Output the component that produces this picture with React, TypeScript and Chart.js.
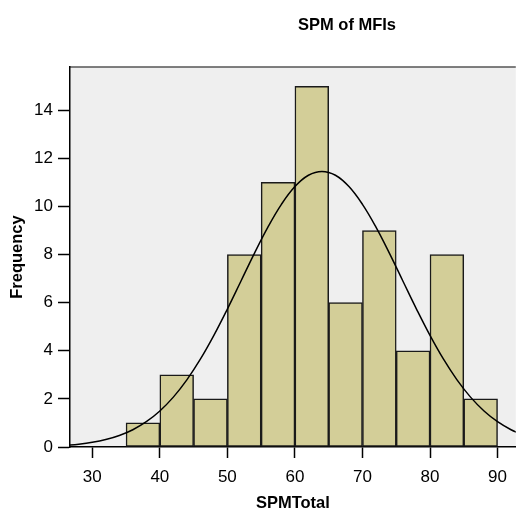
import React, { useEffect, useRef } from "react";
import { Chart, registerables } from "chart.js";

Chart.register(...registerables);

const chartTitle = "SPM of MFIs";
const xTitle = "SPMTotal";
const yTitle = "Frequency";

// Histogram bins (midpoints, width 5) and counts
const binMids = [37.5, 42.5, 47.5, 52.5, 57.5, 62.5, 67.5, 72.5, 77.5, 82.5, 87.5];
const frequencies = [1, 3, 2, 8, 11, 15, 6, 9, 4, 8, 2];

// Normal curve
const curveX = [26, 28, 30, 32, 34, 36, 38, 40, 42, 44, 46, 48, 50, 52, 54, 56, 58, 60, 62, 64, 66, 68, 70, 72, 74, 76, 78, 80, 82, 84, 86, 88, 90, 92, 94];
const curveY = [0.07, 0.118, 0.193, 0.308, 0.478, 0.719, 1.053, 1.499, 2.074, 2.792, 3.65, 4.641, 5.736, 6.892, 8.051, 9.142, 10.09, 10.83, 11.3, 11.46, 11.3, 10.83, 10.09, 9.142, 8.051, 6.892, 5.736, 4.641, 3.65, 2.792, 2.074, 1.499, 1.053, 0.719, 0.478];

const xTicks = [30, 40, 50, 60, 70, 80, 90];
const yTicks = [0, 2, 4, 6, 8, 10, 12, 14];
const xMin = 26.7;
const xMax = 92.7;
const yMax = 15.8;

const FONT = "'Liberation Sans', Arial, Helvetica, sans-serif";

const bgPlugin = {
  id: "bgPlugin",
  beforeDraw(chart: any) {
    const { ctx, chartArea } = chart;
    ctx.save();
    ctx.fillStyle = "#ffffff";
    ctx.fillRect(0, 0, chart.width, chart.height);
    ctx.fillStyle = "#efefef";
    ctx.fillRect(chartArea.left, chartArea.top, chartArea.right - chartArea.left, chartArea.bottom - chartArea.top);
    ctx.strokeStyle = "#555555";
    ctx.lineWidth = 1.5;
    ctx.beginPath();
    ctx.moveTo(chartArea.left, chartArea.top);
    ctx.lineTo(chartArea.right, chartArea.top);
    ctx.stroke();
    ctx.restore();
  },
  afterDraw(chart: any) {
    const { ctx } = chart;
    ctx.save();
    ctx.fillStyle = "#000000";
    ctx.font = `bold 16.5px ${FONT}`;
    ctx.textAlign = "center";
    ctx.textBaseline = "middle";
    ctx.fillText(chartTitle, 347, 25);
    ctx.restore();
  },
};

export default function App() {
  const ref = useRef<HTMLCanvasElement | null>(null);

  useEffect(() => {
    if (!ref.current) return;
    const chart = new Chart(ref.current, {
      type: "bar",
      data: {
        datasets: [
          {
            type: "line",
            label: "Normal",
            data: curveX.map((x, i) => ({ x, y: curveY[i] })),
            borderColor: "#000000",
            borderWidth: 1.5,
            pointRadius: 0,
            tension: 0.4,
            fill: false,
            order: 0,
          } as any,
          {
            type: "bar",
            label: "Frequency",
            data: binMids.map((x, i) => ({ x, y: frequencies[i] })),
            backgroundColor: "#d3ce98",
            borderColor: "#1a1a1a",
            borderWidth: 1.5,
            borderSkipped: false,
            barPercentage: 1,
            categoryPercentage: 1,
            order: 1,
          } as any,
        ],
      },
      options: {
        responsive: false,
        animation: false,
        devicePixelRatio: 1,
        layout: { padding: { top: 67, left: 0, right: 0, bottom: 0 } },
        plugins: {
          legend: { display: false },
          title: { display: false },
          tooltip: { enabled: false },
        },
        scales: {
          x: {
            type: "linear",
            min: xMin,
            max: xMax,
            offset: false,
            afterBuildTicks: (axis: any) => {
              axis.ticks = xTicks.map((v) => ({ value: v }));
            },
            afterFit: (axis: any) => {
              axis.height = 64;
            },
            grid: {
              display: true,
              offset: false,
              drawOnChartArea: false,
              drawTicks: true,
              tickLength: 11,
              tickColor: "#000000",
              tickWidth: 1.5,
            },
            border: { display: true, color: "#000000", width: 1.5 },
            ticks: {
              color: "#000000",
              font: { family: FONT, size: 17 },
              padding: 9,
              maxRotation: 0,
              autoSkip: false,
            },
            title: {
              display: true,
              text: xTitle,
              color: "#000000",
              font: { family: FONT, size: 16.5, weight: "bold", lineHeight: 0.9 },
              padding: { top: 0, bottom: 0 },
            },
          },
          y: {
            type: "linear",
            min: 0,
            max: yMax,
            afterBuildTicks: (axis: any) => {
              axis.ticks = yTicks.map((v) => ({ value: v }));
            },
            afterFit: (axis: any) => {
              axis.width = 70;
            },
            grid: {
              display: true,
              drawOnChartArea: false,
              drawTicks: true,
              tickLength: 12,
              tickColor: "#000000",
              tickWidth: 1.5,
            },
            border: { display: true, color: "#000000", width: 1.5 },
            ticks: {
              color: "#000000",
              font: { family: FONT, size: 17 },
              padding: 5,
              autoSkip: false,
            },
            title: {
              display: true,
              text: yTitle,
              color: "#000000",
              font: { family: FONT, size: 16.5, weight: "bold", lineHeight: 1 },
              padding: { top: 9.5, bottom: 0 },
            },
          },
        },
      } as any,
      plugins: [bgPlugin],
    });
    return () => chart.destroy();
  }, []);

  return (
    <div style={{ position: "fixed", left: 0, top: 0, width: 516, height: 511, background: "#fff" }}>
      <canvas ref={ref} width={516} height={511} style={{ display: "block", width: 516, height: 511 }} />
    </div>
  );
}
